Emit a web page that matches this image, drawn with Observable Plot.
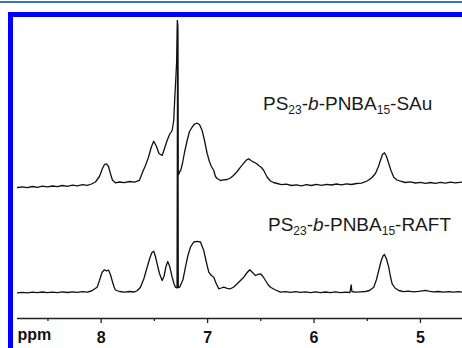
<!DOCTYPE html>
<html>
<head>
<meta charset="utf-8">
<script src="https://cdn.jsdelivr.net/npm/d3@7"></script>
<script src="https://cdn.jsdelivr.net/npm/@observablehq/plot@0.6"></script>
<style>
  html, body { margin: 0; padding: 0; background: #fff; }
  #wrap { position: relative; width: 462px; height: 348px; overflow: hidden; background: #fff; }
  #topline { position: absolute; left: 0; top: 1px; width: 462px; height: 2px; background: #3a74b8; }
  #frame { position: absolute; left: 8px; top: 12px; width: 600px; height: 500px;
           border-left: 5px solid #0000ff; border-top: 5px solid #0000ff; box-sizing: border-box; }
  #chart { position: absolute; left: 0; top: 0; }
  .lbl { position: absolute; font-family: "Liberation Sans", Arial, sans-serif; font-size: 19px;
         line-height: 19px; color: #1a1a1a; white-space: nowrap; }
  .lbl .s { font-size: 12px; position: relative; top: 4px; }
  svg text { font-family: "Liberation Sans", Arial, sans-serif; }
  g[aria-label="x-axis tick label"] text { font-weight: bold; }
</style>
</head>
<body>
<div id="wrap">
  <div id="topline"></div>
  <div id="chart"></div>
  <div id="frame"></div>
  <div class="lbl" style="left:263px; top:94px;">PS<span class="s">23</span>-<i>b</i>-PNBA<span class="s">15</span>-SAu</div>
  <div class="lbl" style="left:268px; top:215px;">PS<span class="s">23</span>-<i>b</i>-PNBA<span class="s">15</span>-RAFT</div>
</div>
<script>
// chemical shift (ppm), intensity (arbitrary units above baseline)
const sauSpectrum = [
  [8.786,0],[8.740,0.7],[8.693,-0.2],[8.646,1.0],[8.599,0.2],[8.552,1.3],[8.505,0.6],[8.458,1.5],
  [8.411,0.8],[8.364,2.0],[8.317,1.2],[8.270,2.4],[8.223,1.7],[8.176,2.8],[8.129,2.2],[8.091,3.5],
  [8.054,5.5],[8.016,11],[7.988,19],[7.969,23],[7.950,23.7],[7.931,21],[7.913,14],[7.894,7.5],
  [7.866,4.7],[7.828,5.5],[7.781,4.8],[7.734,6.0],[7.687,5.4],[7.640,7.2],[7.612,15],[7.584,22],
  [7.556,30],[7.527,41],[7.506,46.3],[7.480,41],[7.457,34],[7.427,32],[7.405,39],[7.380,47],
  [7.358,53],[7.333,57],[7.318,67],[7.309,88],[7.299,108],[7.291,125],[7.2845,167],[7.282,166],
  [7.2785,18],[7.272,13],[7.262,16],[7.253,17],[7.236,24],[7.217,35],[7.192,47],[7.170,56],
  [7.145,60.3],[7.123,63.5],[7.098,64.3],[7.076,63],[7.051,57],[7.029,47],[7.004,34],[6.983,26],
  [6.964,21],[6.942,17],[6.926,11],[6.910,9],[6.879,7],[6.848,7.7],[6.816,8],[6.785,9.5],
  [6.757,12],[6.722,16],[6.691,20.3],[6.660,24.3],[6.635,27.5],[6.613,28.7],[6.593,27],[6.566,25.3],
  [6.541,24],[6.519,22],[6.494,20],[6.472,17],[6.440,10.3],[6.409,6.5],[6.381,5],[6.346,4],
  [6.306,2.8],[6.259,3.4],[6.212,2.0],[6.165,2.7],[6.118,1.7],[6.071,2.8],[6.024,2.0],[5.977,3.1],
  [5.930,2.2],[5.883,3.2],[5.836,2.5],[5.789,3.5],[5.742,2.7],[5.695,3.7],[5.648,3.0],[5.601,4.0],
  [5.554,4.4],[5.501,6.5],[5.460,9.5],[5.423,14],[5.395,21],[5.376,27],[5.357,33],[5.338,34.7],
  [5.319,31],[5.298,24],[5.277,17],[5.251,10.3],[5.221,7.5],[5.188,6.3],[5.141,5.0],[5.094,5.6],
  [5.047,4.5],[5.000,5.2],[4.953,4.2],[4.906,5.0],[4.859,4.1],[4.812,5.1],[4.765,4.4],[4.718,5.4],
  [4.671,4.6],[4.608,5.3]
];
const raftSpectrum = [
  [8.786,-0.3],[8.740,0.2],[8.693,-0.4],[8.646,0.3],[8.599,-0.2],[8.552,0.5],[8.505,-0.1],[8.458,0.4],
  [8.411,-0.2],[8.364,0.6],[8.317,0],[8.270,0.7],[8.223,0.1],[8.176,0.8],[8.129,0.4],[8.091,1.5],
  [8.063,3.5],[8.038,5.3],[8.016,12],[7.991,20.3],[7.969,22.7],[7.950,21.5],[7.931,22.5],[7.913,18],
  [7.897,12],[7.880,6],[7.866,2.5],[7.828,1.0],[7.781,0.4],[7.734,1.0],[7.687,0.5],[7.659,2],
  [7.631,5.3],[7.598,14],[7.568,25.3],[7.541,35],[7.523,40],[7.506,41.3],[7.490,36],[7.474,28.7],
  [7.452,19],[7.427,12],[7.410,16],[7.391,26],[7.374,31],[7.356,26],[7.333,15.3],[7.316,9],
  [7.302,5.3],[7.287,4.5],[7.2815,268],[7.2795,262],[7.2755,5],[7.262,5.3],[7.231,13],[7.208,25.3],
  [7.185,37],[7.161,45.3],[7.130,50.5],[7.098,51.2],[7.067,50.5],[7.036,42],[7.011,30],[6.989,20.3],
  [6.964,17],[6.942,15.3],[6.919,9],[6.895,3.7],[6.872,4.5],[6.848,5.3],[6.816,4.2],[6.785,3.7],
  [6.754,5.5],[6.722,8.7],[6.691,12],[6.660,15.3],[6.632,19.5],[6.604,22.7],[6.578,20],[6.550,17],
  [6.527,18.2],[6.503,18.7],[6.480,16],[6.456,12],[6.433,8],[6.409,5.3],[6.362,2.5],[6.315,0.3],
  [6.268,0.8],[6.221,0.2],[6.174,0.9],[6.127,0.1],[6.080,0.7],[6.033,-0.1],[5.986,0.6],[5.939,-0.2],
  [5.892,0.5],[5.846,-0.1],[5.799,0.6],[5.752,-0.2],[5.705,0.4],[5.662,0],[5.651,7.7],[5.644,1],
  [5.611,0.4],[5.564,0.7],[5.517,1.0],[5.479,2],[5.439,5.3],[5.413,13],[5.392,22],[5.371,31],
  [5.352,36.5],[5.338,38],[5.319,33.5],[5.298,25.3],[5.282,16],[5.266,8.7],[5.239,4.5],[5.204,2],
  [5.160,0.8],[5.113,1.4],[5.066,0.7],[5.019,1.2],[4.981,1.7],[4.953,2.1],[4.925,1.4],[4.878,0.6],
  [4.831,1.0],[4.784,0.4],[4.737,0.9],[4.690,0.3],[4.643,0.8],[4.608,0.3]
];
const majorTicks = [8, 7, 6, 5];
const minorTicks = [8.5, 7.5, 6.5, 5.5];
const seriesNames = ["SAu", "RAFT"];
// vertical stacking of the two traces
const stackOffset = {SAu: 131, RAFT: 26};

const rows = [
  ...sauSpectrum.map(([ppm, v]) => ({series: "SAu", ppm, y: v + stackOffset.SAu})),
  ...raftSpectrum.map(([ppm, v]) => ({series: "RAFT", ppm, y: v + stackOffset.RAFT}))
];

const chart = Plot.plot({
  width: 462,
  height: 348,
  marginLeft: 17,
  marginRight: 0,
  marginTop: 0,
  marginBottom: 30,
  x: {domain: [8.786, 4.605], label: null},
  y: {domain: [0, 318], axis: null},
  style: {background: "transparent", overflow: "visible"},
  marks: [
    Plot.line(rows, {x: "ppm", y: "y", z: "series", stroke: "#111", strokeWidth: 1.3, curve: "linear"}),
    Plot.ruleY([0], {stroke: "#222", strokeWidth: 1.3}),
    Plot.axisX(majorTicks, {tickSize: 5, tickPadding: 8, fontSize: 16, fontWeight: "bold",
      stroke: "#222", strokeWidth: 1.3, fill: "#111", tickFormat: d => String(d), label: null}),
    Plot.axisX(minorTicks, {tickSize: 3, stroke: "#222", strokeWidth: 1.3, tickFormat: () => "", label: null}),
    Plot.text(["ppm"], {frameAnchor: "bottom-left", textAnchor: "start", lineAnchor: "top",
      dy: 10.5, fontSize: 16, fontWeight: "bold", fill: "#111"})
  ]
});
document.getElementById("chart").appendChild(chart);
</script>
</body>
</html>
